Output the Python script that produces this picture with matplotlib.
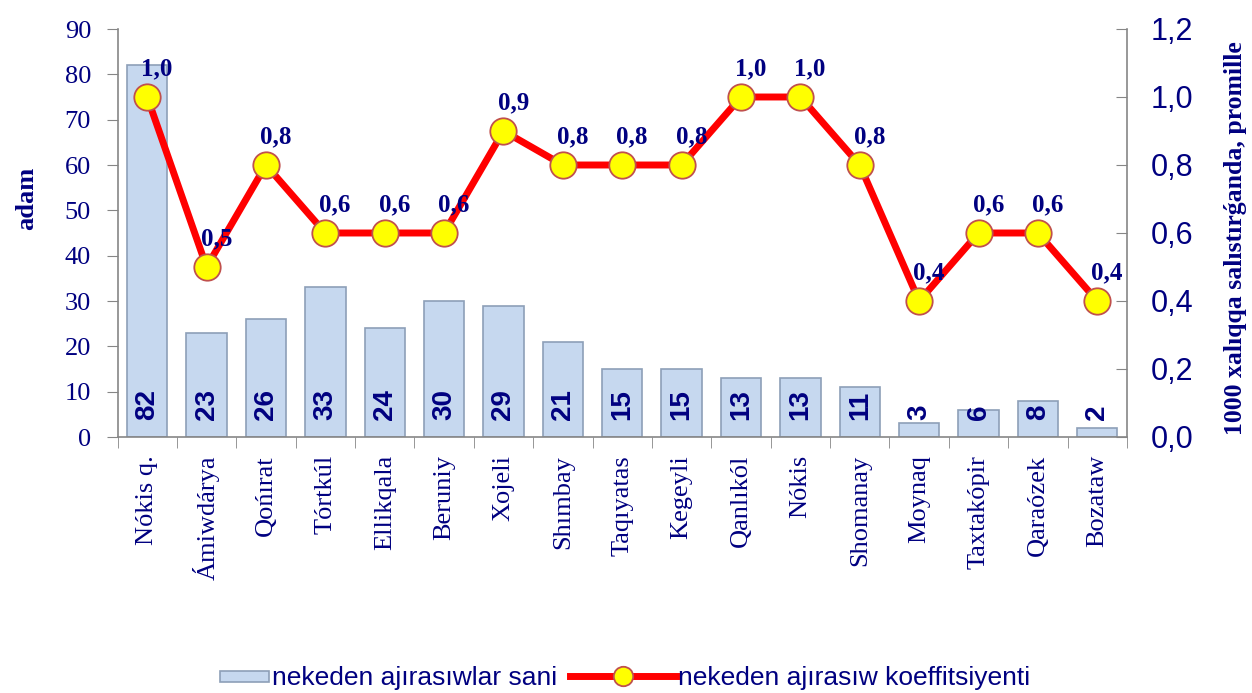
import numpy as np
import matplotlib
matplotlib.use("Agg")
import matplotlib.pyplot as plt
from matplotlib.ticker import FuncFormatter
from matplotlib.patches import Rectangle
from matplotlib.legend_handler import HandlerPatch

# data
districts = ['Nókis q.', 'Ámiwdárya', 'Qońırat', 'Tórtkúl', 'Ellikqala', 'Beruniy',
             'Xojeli', 'Shımbay', 'Taqıyatas', 'Kegeyli', 'Qanlıkól', 'Nókis',
             'Shomanay', 'Moynaq', 'Taxtakópir', 'Qaraózek', 'Bozataw']
divorces = [82, 23, 26, 33, 24, 30, 29, 21, 15, 15, 13, 13, 11, 3, 6, 8, 2]
coef = [1.0, 0.5, 0.8, 0.6, 0.6, 0.6, 0.9, 0.8, 0.8, 0.8, 1.0, 1.0, 0.8, 0.4, 0.6, 0.6, 0.4]

navy = '#000080'
spine_col = '#868686'
serif = 'Liberation Serif'
sans = 'Liberation Sans'

fig = plt.figure(figsize=(12.52, 6.93), dpi=100)
ax = fig.add_axes([117.5 / 1252, 1 - 437 / 693, 1009.5 / 1252, 408 / 693])
x = np.arange(len(districts))

bars = ax.bar(x, divorces, width=0.68, color='#c6d8ef', edgecolor='#8d9fb8',
              linewidth=1.2, label='nekeden ajırasıwlar sani', zorder=2)
for xi, v in zip(x, divorces):
    ax.annotate(str(v), xy=(xi, 0), xytext=(0, 12), textcoords='offset points',
                ha='center', va='bottom', rotation=90, fontsize=20,
                fontweight='bold', color=navy, family=sans, zorder=3)

ax.set_xlim(-0.5, len(districts) - 0.5)
ax.set_ylim(0, 90)
ax.set_yticks(range(0, 91, 10))
ax.set_xticks(x)
ax.set_xticklabels(districts, rotation=90, fontsize=19, color=navy, family=serif)
ax.set_xticks(np.arange(-0.5, len(districts), 1), minor=True)
ax.tick_params(axis='x', which='major', length=0, pad=13)
ax.tick_params(axis='x', which='minor', length=8, color=spine_col, direction='out')
ax.tick_params(axis='y', length=8, color=spine_col, direction='out', pad=11,
               labelsize=19, labelcolor=navy)
for lab in ax.get_yticklabels():
    lab.set_family(serif)
ax.set_ylabel('adam', fontsize=19, fontweight='bold', color=navy, family=serif)
ax.yaxis.set_label_coords(-0.079, 0.586)

for s in ['top', 'right']:
    ax.spines[s].set_visible(False)
for s in ['left', 'bottom']:
    ax.spines[s].set_color(spine_col)
    ax.spines[s].set_linewidth(1.2)

ax2 = ax.twinx()
line, = ax2.plot(x, coef, color='#ff0000', linewidth=5, marker='o', markersize=19,
                 markerfacecolor='#ffff00', markeredgecolor='#c0504d',
                 markeredgewidth=1.3, label='nekeden ajırasıw koeffitsiyenti', zorder=4)
for xi, v in zip(x, coef):
    ax2.annotate(f'{v:.1f}'.replace('.', ','), xy=(xi, v), xytext=(7, 12),
                 textcoords='offset points', ha='center', va='bottom', fontsize=18,
                 fontweight='bold', color=navy, family=serif, zorder=5)
ax2.set_ylim(0, 1.2)
ax2.set_yticks(np.arange(0, 1.21, 0.2))
ax2.yaxis.set_major_formatter(FuncFormatter(lambda v, p: f'{v:.1f}'.replace('.', ',')))
ax2.tick_params(axis='y', length=8, color=spine_col, direction='in', pad=17,
                labelsize=22, labelcolor=navy)
for lab in ax2.get_yticklabels():
    lab.set_family(sans)
ax2.set_ylabel('1000 xalıqqa salıstırǵanda, promille', fontsize=18.5, fontweight='bold',
               color=navy, family=serif)
ax2.yaxis.set_label_coords(1.096, 0.488)
for s in ['top', 'left', 'bottom']:
    ax2.spines[s].set_visible(False)
ax2.spines['right'].set_color(spine_col)
ax2.spines['right'].set_linewidth(1.2)


# narrow bar swatch at the right end of the handle box
def bar_swatch(legend, orig_handle, xdescent, ydescent, width, height, fontsize):
    w = width * 0.47
    return Rectangle((width - w - xdescent, -ydescent + height * 0.15), w, height * 0.6)


leg = fig.legend([bars[0], line], [bars.get_label(), line.get_label()], loc='center',
                 bbox_to_anchor=(0.477, 0.022), ncol=2, frameon=False,
                 prop={'family': sans, 'size': 19}, handlelength=4.0,
                 handletextpad=0.1, columnspacing=0.5,
                 handler_map={Rectangle: HandlerPatch(patch_func=bar_swatch)})
for t in leg.get_texts():
    t.set_color(navy)
for h in leg.legend_handles:
    if hasattr(h, 'set_markersize'):
        h.set_markersize(14)

fig.savefig('out.png', dpi=100)
